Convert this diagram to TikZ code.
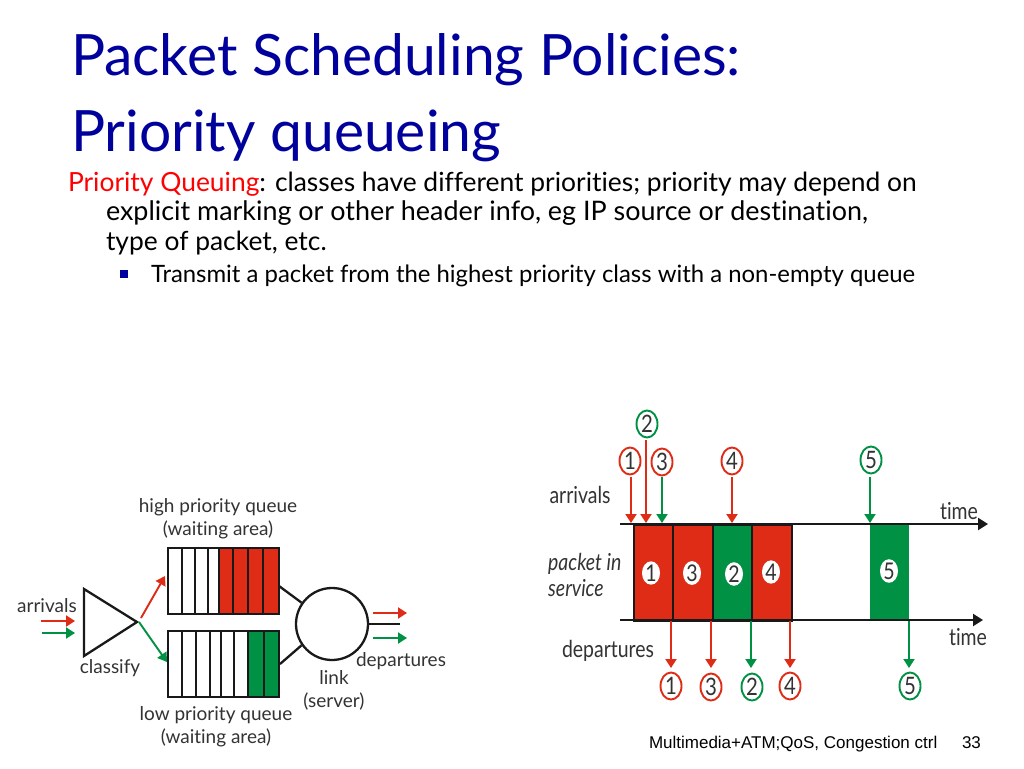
\documentclass[tikz,border=0pt]{standalone}
\usepackage{fontspec}
\setmainfont{Lato}[Ligatures=NoCommon]
\newfontfamily\footfont{Liberation Sans}
\usetikzlibrary{arrows.meta,shapes.geometric}
\definecolor{titleblue}{HTML}{00009C}
\definecolor{pred}{HTML}{DE2C17}
\definecolor{pgreen}{HTML}{009145}
\definecolor{lab}{HTML}{333333}
\newcommand{\tallnum}[1]{\scalebox{.85}[1]{#1}}
\newcommand{\rlab}[1]{\scalebox{1.08}[1.3]{#1}}
\tikzset{
  txt/.style={anchor=base west,inner sep=0pt,outer sep=0pt},
  titletxt/.style={txt,text=titleblue,font=\fontsize{57}{57}\selectfont},
  bodytxt/.style={txt,text=black,font=\fontsize{26.4}{26}\selectfont},
  lbl/.style={inner sep=0pt,text=lab,align=center,font=\fontsize{19}{23}\selectfont},
  rightlbl/.style={inner sep=0pt,text=lab,align=center,font=\fontsize{18}{26}\selectfont},
  ln/.style={draw=black!90,line width=2.3pt},
  redarrow/.style={draw=pred,line width=1.9pt,-{Triangle[length=9pt,width=11pt]}},
  greenarrow/.style={draw=pgreen,line width=1.9pt,-{Triangle[length=9pt,width=11pt]}},
  axisarrow/.style={draw=black!90,line width=2.2pt,-{Triangle[length=10pt,width=12pt]}},
  ellipsenum/.style={shape=ellipse,line width=1.9pt,minimum width=21pt,minimum height=27pt,inner sep=0pt,text=lab,font=\fontsize{24}{24}\selectfont},
  redcirc/.style={ellipsenum,draw=pred},
  greencirc/.style={ellipsenum,draw=pgreen},
  dot/.style={shape=ellipse,fill=white,minimum width=18pt,minimum height=21pt,inner sep=0pt,text=lab,font=\fontsize{23}{23}\selectfont},
  bar/.style={draw=black!90,line width=2pt,minimum height=96pt,inner sep=0pt},
  cell/.style={draw=black!90,line width=2.2pt},
}
\begin{document}
\begin{tikzpicture}[x=1pt,y=-1pt]
\useasboundingbox[fill=white] (0,0) rectangle (1024,768);
% text
\node[titletxt] (t1) at (71,75) {Packet Scheduling Policies:};
\node[titletxt] (t2) at (71,151) {Priority queueing};
\node[bodytxt] (b1) at (68,191) {\textcolor{red}{Priority Queuing}: classes have different priorities; priority may depend on};
\node[bodytxt,font=\fontsize{26.9}{26}\selectfont] (b2) at (106,220) {explicit marking or other header info, eg IP source or destination,};
\node[bodytxt] (b3) at (106,250) {type of packet, etc.};
\node[bodytxt,font=\fontsize{23.9}{24}\selectfont] (b4) at (151,282) {Transmit a packet from the highest priority class with a non-empty queue};
\node[fill=titleblue,minimum size=8pt,inner sep=0pt] (bul) at (124,274) {};
% queues
\foreach \a/\b in {168/182,182/195,195/208,208/219}
  \draw[cell] (\a,548) rectangle (\b,614);
\foreach \a/\b in {219/233,233/248,248/263,263/279}
  \draw[cell,fill=pred] (\a,548) rectangle (\b,614);
\foreach \a/\b in {168/182,182/196,196/210,210/221,221/234,234/248}
  \draw[cell] (\a,631) rectangle (\b,697);
\foreach \a/\b in {248/264,264/279}
  \draw[cell,fill=pgreen] (\a,631) rectangle (\b,697);
\coordinate (qhi) at (279,586);
\coordinate (qlo) at (280,664);
\coordinate (qhin) at (165,576);
\coordinate (qlin) at (167,662);
\node[circle,draw=black!90,line width=2.3pt,minimum size=72pt,inner sep=0pt] (srv) at (332,624) {};
\draw[ln] (qhi) -- (srv.145);
\draw[ln] (qlo) -- (srv.215);
\coordinate (outend) at (400,624);
\draw[ln] (srv.east) -- (outend);
\coordinate (t-a) at (84,589);
\coordinate (t-b) at (84,656);
\coordinate (t-c) at (137,622);
\draw[ln,line join=miter] (t-a) -- (t-c) -- (t-b) -- cycle;
\coordinate (tr) at (141,618);
\coordinate (tg) at (139,622);
\draw[redarrow] (tr) -- (qhin);
\draw[greenarrow] (tg) -- (qlin);
\coordinate (ar1) at (41,621); \coordinate (ar2) at (75,621);
\coordinate (ag1) at (42,633); \coordinate (ag2) at (75,633);
\draw[redarrow] (ar1) -- (ar2);
\draw[greenarrow] (ag1) -- (ag2);
\coordinate (or1) at (373,613); \coordinate (or2) at (407,613);
\coordinate (og1) at (373,638); \coordinate (og2) at (407,638);
\draw[redarrow] (or1) -- (or2);
\draw[greenarrow] (og1) -- (og2);
\node[lbl] (l1) at (218,519) {high priority queue\\(waiting area)};
\node[lbl] (l2) at (47,606) {arrivals};
\node[lbl] (l3) at (110,668) {classify};
\node[lbl] (l4) at (216,727) {low priority queue\\(waiting area)};
\node[lbl] (l5) at (334,690) {link\\(server)};
\node[lbl] (l6) at (401,661) {departures};
% timing
\coordinate (ax1s) at (620,524); \coordinate (ax1e) at (988,524);
\coordinate (ax2s) at (620,620); \coordinate (ax2e) at (983,620);
\node[bar,fill=pred,anchor=north west,minimum width=39pt] (p1) at (633,524) {};
\node[bar,fill=pred,anchor=north west,minimum width=40pt] (p3) at (672,524) {};
\node[bar,fill=pgreen,anchor=north west,minimum width=39pt] (p2) at (712,524) {};
\node[bar,fill=pred,anchor=north west,minimum width=40pt] (p4) at (751,524) {};
\node[fill=pgreen,anchor=north west,minimum width=39pt,minimum height=96pt,inner sep=0pt] (p5) at (870,524) {};
\draw[axisarrow] (ax1s) -- (ax1e);
\draw[axisarrow] (ax2s) -- (ax2e);
\node[dot] (n1) at (651,573) {\tallnum{1}};
\node[dot] (n3) at (692,573) {\tallnum{3}};
\node[dot] (n2) at (734,574) {\tallnum{2}};
\node[dot] (n4) at (771,572) {\tallnum{4}};
\node[dot] (n5) at (889,571) {\tallnum{5}};
\node[redcirc] (a1) at (630,461) {\tallnum{1}};
\node[greencirc] (a2) at (647,424) {\tallnum{2}};
\node[redcirc] (a3) at (662,462) {\tallnum{3}};
\node[redcirc] (a4) at (732,461) {\tallnum{4}};
\node[greencirc] (a5) at (871,460) {\tallnum{5}};
\coordinate (a1s) at (631,477); \coordinate (a2s) at (646,440); \coordinate (a3s) at (662,477);
\coordinate (a4s) at (732,477); \coordinate (a5s) at (870,477);
\coordinate (a1e) at (631,523); \coordinate (a2e) at (646,523); \coordinate (a3e) at (662,523);
\coordinate (a4e) at (732,523); \coordinate (a5e) at (870,523);
\draw[redarrow] (a1s) -- (a1e);
\draw[redarrow] (a2s) -- (a2e);
\draw[greenarrow] (a3s) -- (a3e);
\draw[redarrow] (a4s) -- (a4e);
\draw[greenarrow] (a5s) -- (a5e);
\node[redcirc] (d1) at (671,686) {\tallnum{1}};
\node[redcirc] (d3) at (711,687) {\tallnum{3}};
\node[greencirc] (d2) at (752,687) {\tallnum{2}};
\node[redcirc] (d4) at (790,686) {\tallnum{4}};
\node[greencirc] (d5) at (910,686) {\tallnum{5}};
\coordinate (d1s) at (671,621); \coordinate (d3s) at (711,621); \coordinate (d2s) at (751,621);
\coordinate (d4s) at (790,621); \coordinate (d5s) at (909,621);
\coordinate (d1e) at (671,668); \coordinate (d3e) at (711,668); \coordinate (d2e) at (751,668);
\coordinate (d4e) at (790,668); \coordinate (d5e) at (909,668);
\draw[redarrow] (d1s) -- (d1e);
\draw[redarrow] (d3s) -- (d3e);
\draw[greenarrow] (d2s) -- (d2e);
\draw[redarrow] (d4s) -- (d4e);
\draw[greenarrow] (d5s) -- (d5e);
\node[rightlbl] (r1) at (580,495) {\rlab{arrivals}};
\node[rightlbl,anchor=west,align=left] (r2) at (548,575) {\itshape\rlab{packet in}\\\itshape\rlab{service}};
\node[rightlbl] (r3) at (608,651) {\rlab{departures}};
\node[rightlbl] (r4) at (959,511) {\rlab{time}};
\node[rightlbl] (r5) at (968,637) {\rlab{time}};
% footer
\node[txt,font=\footfont\fontsize{17}{17}\selectfont] (f1) at (649,748) {Multimedia+ATM;QoS, Congestion ctrl};
\node[txt,font=\footfont\fontsize{17}{17}\selectfont] (f2) at (962,748) {33};
\end{tikzpicture}
\end{document}
